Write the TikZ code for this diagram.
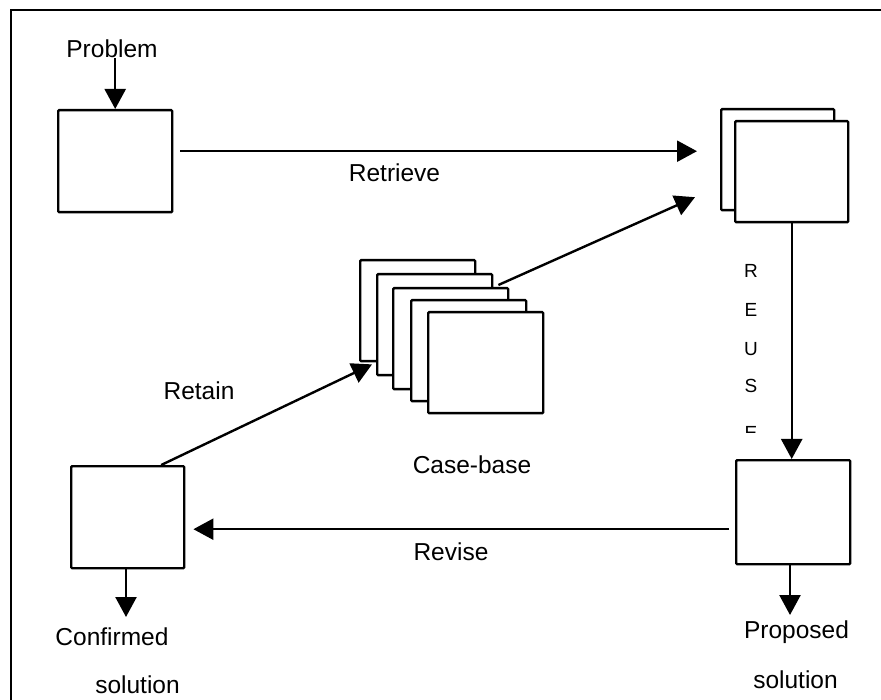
\documentclass[tikz,border=0pt]{standalone}
\usepackage{fontspec}
\setmainfont{Liberation Sans}
\usetikzlibrary{arrows.meta,calc}
\begin{document}
\begin{tikzpicture}[x=1pt,y=-1pt,
  box/.style={draw,line width=2.4pt,fill=white,rectangle,inner sep=0pt,
    anchor=north west,rounded corners=1pt},
  card/.style={box,minimum width=115pt,minimum height=101pt},
  lbl/.style={inner sep=0pt,anchor=base,font=\fontsize{24.5}{28}\selectfont},
  letter/.style={inner sep=0pt,anchor=base,font=\fontsize{19}{21}\selectfont},
  arr/.style={line width=2.4pt,-{Triangle[width=21pt,length=20pt]}}]
\useasboundingbox (0,0) rectangle (881,700);

% outer frame (only the top and left edges fall inside the page)
\draw[line width=2.4pt] (11,730) -- (11,10) -- (900,10);

% single-case boxes
\node[box,minimum width=114pt,minimum height=102pt] (pbox) at (57,109) {};
\node[box,minimum width=113pt,minimum height=101pt] (trb) at (720,108) {};
\node[box,minimum width=113pt,minimum height=101pt] (trf) at (734,120) {};
\node[box,minimum width=114pt,minimum height=104pt] (prop) at (735,459) {};
\node[box,minimum width=113pt,minimum height=102pt] (cbox) at (70,465) {};

% case-base stack
\node[card] (cb1) at (359,259) {};
\node[card] (cb2) at (376,273) {};
\node[card] (cb3) at (392,287) {};
\node[card] (cb4) at (410,299) {};
\node[card] (cb5) at (427,311) {};

% labels
\node[lbl] (prob) at (112,58) {Problem};
\node[lbl] (retrieve) at (394.5,182) {Retrieve};
\node[lbl] (retain) at (199,400) {Retain};
\node[lbl] (casebase) at (472,473) {Case-base};
\node[lbl] (revise) at (451,560) {Revise};
\node[lbl] (conf) at (112,645) {Confirmed};
\node[lbl] (confsol) at (137.5,693) {solution};
\node[lbl] (proposed) at (796.5,638) {Proposed};
\node[lbl] (propsol) at (795.5,688) {solution};

% the word REUSE written downwards beside the arrow
\node[letter] (r1) at (751,278) {R};
\node[letter] (r2) at (751,317) {E};
\node[letter] (r3) at (751,356) {U};
\node[letter] (r4) at (751,393) {S};
\begin{scope}
  \clip (730,400) rectangle (775,433);
  \node[letter] (r5) at (751,439) {E};
\end{scope}

% free ends of the output arrows
\coordinate (propout) at (790,615);
\coordinate (confout) at (126,617);

% connectors
\draw[arr] (pbox.north |- prob.south) -- (pbox.north);
\draw[arr] ($(pbox.east)+(7,-10)$) -- ($(trb.west)+(-23,-8.5)$);
\draw[arr] ($(cb3.north east)+(-11,-2)$) -- ($(trb.west)+(-25,37.5)$);
\draw[arr] (trf.south) -- (trf.south |- prop.north);
\draw[arr] (propout |- prop.south) -- (propout);
\draw[arr] ($(prop.west)+(-6,17)$) -- ($(cbox.east)+(8,12)$);
\draw[arr] ($(cbox.north)+(33.5,0)$) -- ($(cb1.south west)+(13,2)$);
\draw[arr] (confout |- cbox.south) -- (confout);
\end{tikzpicture}
\end{document}
